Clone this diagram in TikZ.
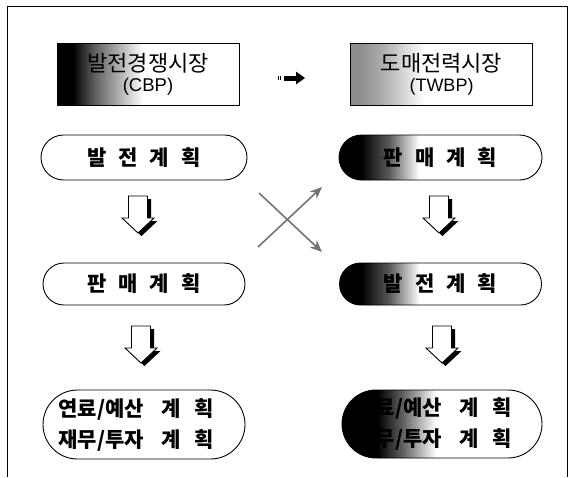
\documentclass[tikz,border=0pt]{standalone}
\usepackage{fontspec}
\setmainfont{Liberation Sans}
\newfontfamily\cjk{Noto Sans CJK KR}
\usetikzlibrary{arrows.meta,calc,shapes.misc}
\tikzset{
  % c1 solid for w1, shade c1->c2 over w2, shade c2->white over w3
  fadefill/.style n args={5}{path picture={
     \coordinate (ppsw) at (path picture bounding box.south west);
     \coordinate (ppnw) at (path picture bounding box.north west);
     \fill[#1] (ppsw) rectangle ([xshift=#2pt]ppnw);
     \shade[left color=#1, right color=#3] ([xshift=#2pt-0.2pt]ppsw) rectangle ([xshift=#2pt+#4pt]ppnw);
     \shade[left color=#3, right color=white] ([xshift=#2pt+#4pt-0.2pt]ppsw) rectangle ([xshift=#2pt+#4pt+#5pt]ppnw);
  }},
  topbox/.style={draw, line width=0.8pt, minimum width=182pt, minimum height=62pt, inner sep=0pt, align=center},
  stad/.style={draw, line width=0.9pt, rounded rectangle, minimum width=204pt, minimum height=44pt, inner sep=0pt, align=center,
     font=\cjk\bfseries\fontsize{21}{24}\selectfont},
  stadtall/.style={stad, minimum height=68pt, font=\cjk\bfseries\fontsize{21}{31}\selectfont},
  crossline/.style={draw=black!55, line width=1.6pt, -{Stealth[length=12pt,width=10pt]}},
  hollowdown/.pic={
    \fill[black, shift={(3.5,3)}] (-9.5,-18) -- (9.5,-18) -- (9.5,4) -- (16,4) -- (0,19) -- (-16,4) -- (-9.5,4) -- cycle;
    \filldraw[fill=white, draw=black, line width=0.9pt, line join=miter] (-9.5,-18) -- (9.5,-18) -- (9.5,4) -- (16,4) -- (0,19) -- (-16,4) -- (-9.5,4) -- cycle;
  }
}
\begin{document}
\begin{tikzpicture}[x=1pt, y=-1pt]
\useasboundingbox (0,0) rectangle (572,477);
% frame
\draw[line width=1pt] (7,477) -- (7,6) -- (567,6) -- (567,477);
% top boxes
\node[topbox, fadefill={black}{16}{black!65}{20}{50}] (tl) at (148,74.5)
  {{\cjk\fontsize{22}{24}\selectfont 발전경쟁시장}\\[4pt]{\fontsize{18.5}{20}\selectfont (CBP)}};
\node[topbox, fadefill={black!45}{8}{black!32}{24}{42}] (tr) at (441.5,74.5)
  {{\cjk\fontsize{22}{24}\selectfont 도매전력시장}\\[4pt]{\fontsize{18}{20}\selectfont (TWBP)}};
% small arrow between top boxes
\draw[line width=5pt, -{Triangle[length=9pt,width=12pt]}, shorten <=45pt, shorten >=45pt]
  ([yshift=-3.5pt]tl.east) -- ([yshift=-3.5pt]tr.west);
\draw[line width=4pt, dash pattern=on 1pt off 1pt, shorten <=39pt, shorten >=68pt]
  ([yshift=-3.5pt]tl.east) -- ([yshift=-3.5pt]tr.west);
% left column
\node[stad, minimum width=206pt, minimum height=45pt] (l1) at (144,157.5) {발\hspace{12pt}전\hspace{12pt}계\hspace{12pt}획};
\node[stad, minimum width=202pt, minimum height=42pt] (l2) at (144,284) {판\hspace{12pt}매\hspace{12pt}계\hspace{12pt}획};
\node[stadtall, minimum width=202pt, minimum height=69pt] (l3) at (144,424.5)
  {\hspace*{-16pt}연료/예산\hspace{18pt}계\hspace{13pt}획\\\hspace*{-16pt}재무/투자\hspace{18pt}계\hspace{13pt}획};
% right column
\node[stad, fadefill={black}{22}{black!65}{28}{30}, minimum width=203pt, minimum height=45pt] (r1) at (440.5,157.5) {판\hspace{12pt}매\hspace{12pt}계\hspace{12pt}획};
\node[stad, fadefill={black}{22}{black!65}{28}{30}, minimum width=202pt, minimum height=42pt] (r2) at (440.5,284) {발\hspace{12pt}전\hspace{12pt}계\hspace{12pt}획};
\node[stadtall, fadefill={black}{36}{black!60}{26}{32}, minimum width=200pt, minimum height=68pt] (r3) at (442,424)
  {\hspace*{-16pt}연료/예산\hspace{18pt}계\hspace{13pt}획\\\hspace*{-16pt}재무/투자\hspace{18pt}계\hspace{13pt}획};
% hollow down arrows
\pic at (138,214) {hollowdown};
\pic at (141,344) {hollowdown};
\pic at (439,214) {hollowdown};
\pic at (442,344) {hollowdown};
% cross arrows
\coordinate (xa) at (258,247);
\coordinate (xb) at (322,187);
\coordinate (xc) at (259,193);
\coordinate (xd) at (322,252);
\draw[crossline] (xa) -- (xb);
\draw[crossline] (xc) -- (xd);
\end{tikzpicture}
\end{document}
